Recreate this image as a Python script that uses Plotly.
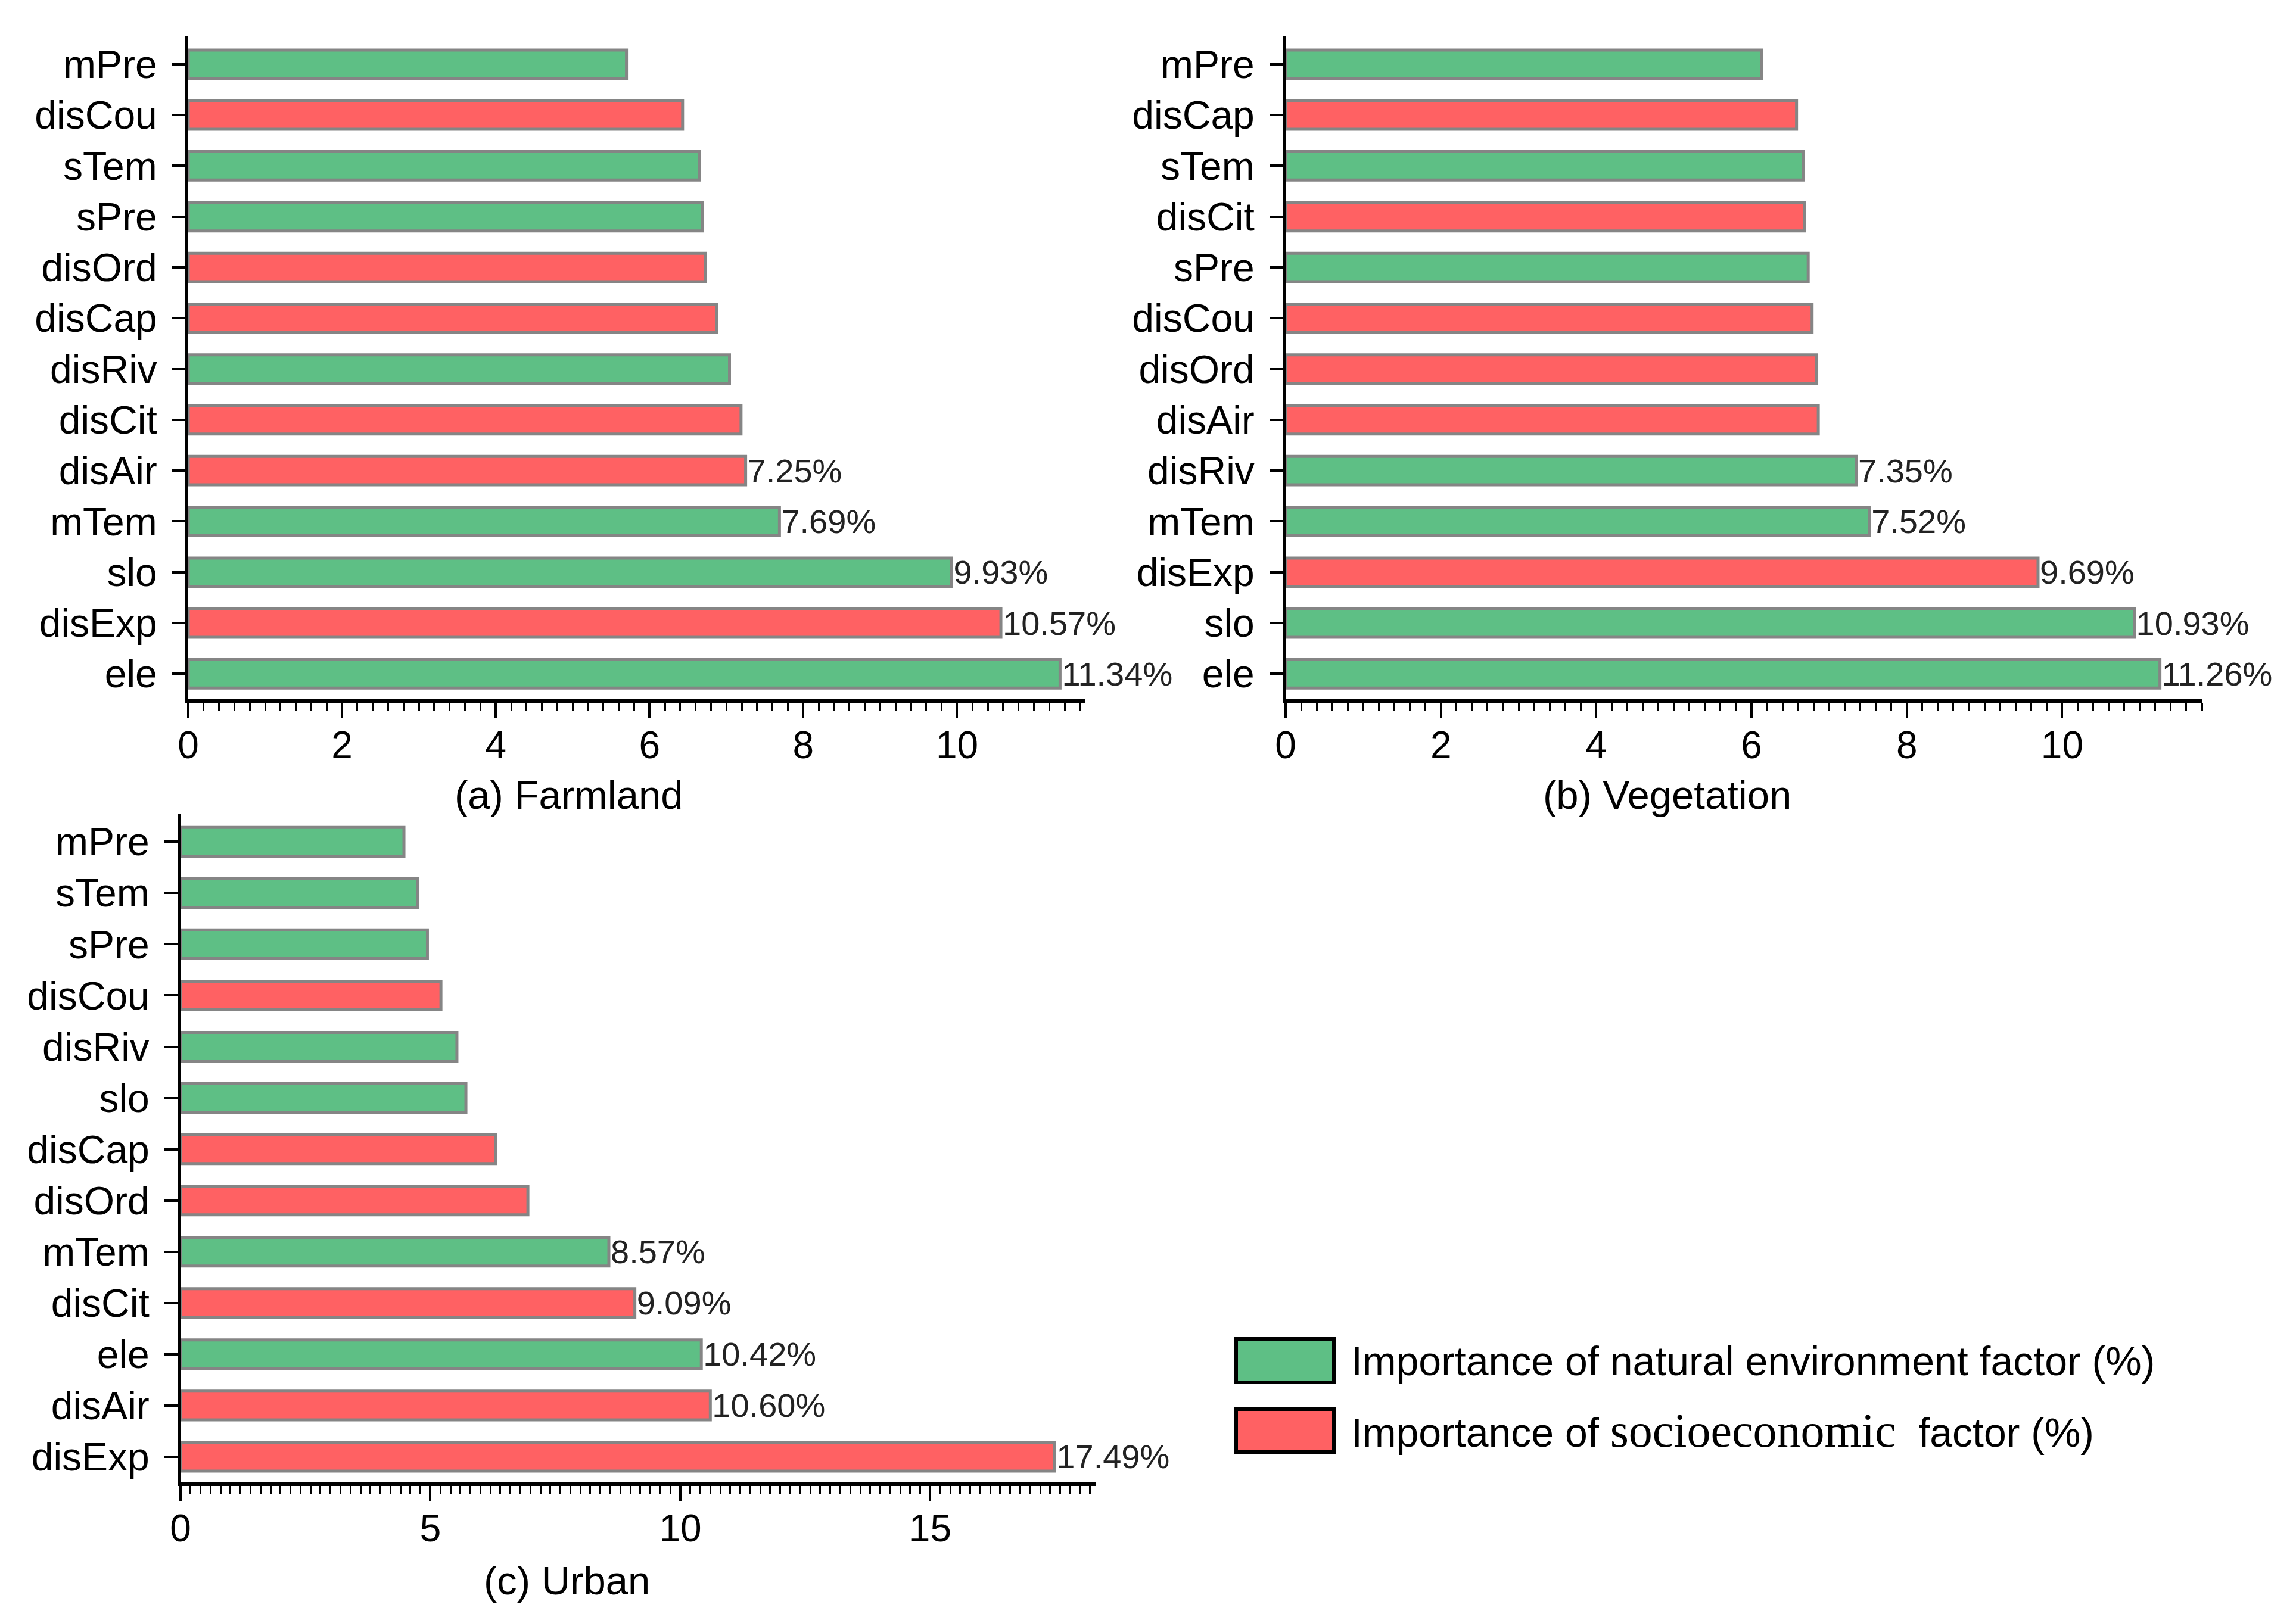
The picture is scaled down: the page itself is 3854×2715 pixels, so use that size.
import plotly.graph_objects as go

# ---------------- data ----------------
natural_factors = ["ele", "slo", "mTem", "disRiv", "sPre", "sTem", "mPre"]
socio_factors = ["disExp", "disAir", "disCit", "disCap", "disOrd", "disCou"]

# bottom -> top order
farm_factors = ["ele", "disExp", "slo", "mTem", "disAir", "disCit", "disRiv",
                "disCap", "disOrd", "sPre", "sTem", "disCou", "mPre"]
farm_values = [11.34, 10.57, 9.93, 7.69, 7.25, 7.19, 7.04, 6.87, 6.73, 6.69, 6.65, 6.43, 5.70]

veg_factors = ["ele", "slo", "disExp", "mTem", "disRiv", "disAir", "disOrd",
               "disCou", "sPre", "disCit", "sTem", "disCap", "mPre"]
veg_values = [11.26, 10.93, 9.69, 7.52, 7.35, 6.86, 6.84, 6.78, 6.73, 6.68, 6.67, 6.58, 6.13]

urb_factors = ["disExp", "disAir", "ele", "disCit", "mTem", "disOrd", "disCap",
               "slo", "disRiv", "disCou", "sPre", "sTem", "mPre"]
urb_values = [17.49, 10.60, 10.42, 9.09, 8.57, 6.95, 6.30, 5.71, 5.53, 5.21, 4.94, 4.75, 4.47]

n_labelled = 5  # number of largest factors annotated with their value

panel_titles = ["(a) Farmland", "(b) Vegetation", "(c) Urban"]
x_ranges = [11.67, 11.80, 18.32]
x_dticks = [2, 2, 5]

legend_natural = "Importance of natural environment factor (%)"
legend_socio = ('Importance of <span style="font-family:\'Liberation Serif\', serif; font-size:80px">'
                'socioeconomic</span>  factor (%)')

GREEN = "#5EBF85"
RED = "#FF6163"
EDGE = "#858585"
FONT = "Liberation Sans, Arial, sans-serif"

W, H = 3854, 2715

# domains (paper fractions)
domains = [
    dict(x=[308 / W, 1814 / W], y=[1 - 1166 / H, 1 - 53 / H]),
    dict(x=[2150 / W, 3688 / W], y=[1 - 1166 / H, 1 - 53 / H]),
    dict(x=[295 / W, 1832 / W], y=[1 - 2481 / H, 1 - 1358 / H]),
]

fig = go.Figure()

panels = [(farm_factors, farm_values), (veg_factors, veg_values), (urb_factors, urb_values)]

for i, (facs, vals) in enumerate(panels):
    ax = "" if i == 0 else str(i + 1)
    for group, color in ((natural_factors, GREEN), (socio_factors, RED)):
        ys, xs, ts = [], [], []
        for rank, (f, v) in enumerate(zip(facs, vals)):
            if f in group:
                ys.append(f)
                xs.append(v)
                ts.append(f"{v:.2f}%" if rank < n_labelled else "")
        fig.add_trace(go.Bar(
            x=xs, y=ys, orientation="h", width=0.56,
            marker=dict(color=color, line=dict(color=EDGE, width=5)),
            text=ts, textposition="outside", constraintext="none",
            textfont=dict(family=FONT, size=56, color="#222222"),
            cliponaxis=False, showlegend=False,
            xaxis="x" + ax, yaxis="y" + ax,
        ))

    fig.layout["xaxis" + ax] = dict(
        domain=domains[i]["x"], anchor="y" + ax, range=[0, x_ranges[i]],
        dtick=x_dticks[i], tick0=0, showgrid=False, zeroline=False,
        showline=True, linewidth=6, linecolor="black", automargin=False,
        ticks="outside", ticklen=26, tickwidth=4, tickcolor="black",
        ticklabelstandoff=-10,
        minor=dict(dtick=0.2, tick0=0, ticks="outside", ticklen=13, tickwidth=3,
                   tickcolor="black", showgrid=False),
        tickfont=dict(family=FONT, size=64, color="black"),
    )
    fig.layout["yaxis" + ax] = dict(
        domain=domains[i]["y"], anchor="x" + ax, type="category",
        categoryorder="array", categoryarray=facs, range=[-0.5, 12.55],
        showgrid=False, zeroline=False, automargin=False,
        showline=True, linewidth=5, linecolor="black",
        ticks="outside", ticklen=22, tickwidth=4, tickcolor="black",
        ticklabelstandoff=12,
        tickfont=dict(family=FONT, size=66, color="black"),
    )

# panel titles
title_pos = [(946 / W, 1 - 1326 / H), (2790 / W, 1 - 1326 / H), (943 / W, 1 - 2645 / H)]
annotations = []
for t, (tx, ty) in zip(panel_titles, title_pos):
    annotations.append(dict(text=t, x=tx, y=ty, xref="paper", yref="paper",
                            xanchor="center", yanchor="middle", showarrow=False,
                            font=dict(family=FONT, size=67, color="black")))

# legend (drawn manually to match the large swatches)
shapes = []
leg_items = [(legend_natural, GREEN, 2240, 2313), (legend_socio, RED, 2358, 2430)]
for txt, col, top, bot in leg_items:
    shapes.append(dict(type="rect", xref="paper", yref="paper",
                       x0=2067 / W, x1=2231 / W, y0=1 - bot / H, y1=1 - top / H,
                       fillcolor=col, line=dict(color="black", width=6)))
    annotations.append(dict(text=txt, x=2258 / W, y=1 - ((top + bot) / 2) / H,
                            xref="paper", yref="paper", xanchor="left", yanchor="middle",
                            showarrow=False, font=dict(family=FONT, size=68, color="black")))

fig.update_layout(
    width=W, height=H, margin=dict(l=0, r=0, t=0, b=0, autoexpand=False),
    paper_bgcolor="white", plot_bgcolor="white",
    barmode="overlay", annotations=annotations, shapes=shapes,
    font=dict(family=FONT),
)

fig.write_html("out.html")
